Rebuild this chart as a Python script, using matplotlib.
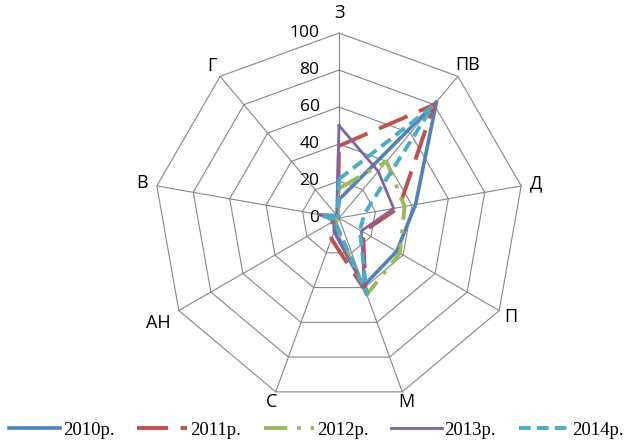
import numpy as np
import matplotlib
matplotlib.use("Agg")
import matplotlib.pyplot as plt

# === DATA ===
categories = ['З', 'ПВ', 'Д', 'П', 'М', 'С', 'АН', 'В', 'Г']
years = ['2010р.', '2011р.', '2012р.', '2013р.', '2014р.']

vals_2010 = [10, 82, 42, 36, 39, 7, 3, 2, 1]
vals_2011 = [39, 80, 33, 15, 42, 12, 4, 2, 1]
vals_2012 = [16, 40, 36, 38, 44, 5, 2, 2, 1]
vals_2013 = [50, 33, 30, 14, 40, 8, 3, 11, 2]
vals_2014 = [21, 79, 14, 13, 44, 4, 2, 9, 1]

r_ticks = [0, 20, 40, 60, 80, 100]

# === STYLE ===
SANS = ['Open Sans', 'DejaVu Sans']
SERIF = ['Liberation Serif', 'DejaVu Serif']
GRID_COLOR = '#868686'

series_style = [
    dict(color='#4F81BD', lw=2.6, ls='-'),
    dict(color='#C0504D', lw=2.8, ls=(0, (8, 3.2))),
    dict(color='#9BBB59', lw=2.8, ls=(0, (6, 2.5, 1, 2.5))),
    dict(color='#8064A2', lw=2.0, ls='-'),
    dict(color='#4BACC6', lw=2.8, ls=(0, (3, 1.6))),
]
all_vals = [vals_2010, vals_2011, vals_2012, vals_2013, vals_2014]

n = len(categories)
theta = np.arange(n) * 2 * np.pi / n
theta_closed = np.append(theta, theta[0])

fig = plt.figure(figsize=(6.33, 4.42), dpi=100)
ax = fig.add_axes([0.2433, 0.0882, 0.5845, 0.837], projection='polar')
ax.set_theta_zero_location('N')
ax.set_theta_direction(-1)
ax.set_ylim(0, 100)
ax.grid(False)
ax.spines['polar'].set_visible(False)
ax.set_xticks([])
ax.set_yticks([])

# polygon grid and spokes
for lvl in r_ticks[1:]:
    ax.plot(theta_closed, [lvl] * (n + 1), color=GRID_COLOR, lw=0.8,
            clip_on=False, zorder=1)
for t in theta:
    ax.plot([t, t], [0, 100], color=GRID_COLOR, lw=0.8, clip_on=False,
            zorder=1)

# radial value labels along the top spoke
for lvl in r_ticks:
    ax.annotate(str(lvl), xy=(0, lvl), xytext=(-14, 0),
                textcoords='offset points', ha='right', va='center',
                fontsize=12.5, family=SANS, annotation_clip=False)

# category labels around the outside
label_r = [111, 108, 108, 107, 106, 106, 113, 108, 107]
for t, name, rr in zip(theta, categories, label_r):
    ax.text(t, rr, name, ha='center', va='center', fontsize=13,
            family=SANS, clip_on=False)

# series
for vals, year, st in zip(all_vals, years, series_style):
    ax.plot(theta_closed, vals + vals[:1], color=st['color'], lw=st['lw'],
            linestyle=st['ls'], label=year, clip_on=False, zorder=3)

fig.legend(loc='center', bbox_to_anchor=(0.5, 1 - 430 / 442), ncol=5,
           frameon=False, prop={'family': SERIF, 'size': 13.5},
           handlelength=2.7, handletextpad=0.15, columnspacing=1.2,
           borderaxespad=0)

fig.savefig('out.png', dpi=100)
